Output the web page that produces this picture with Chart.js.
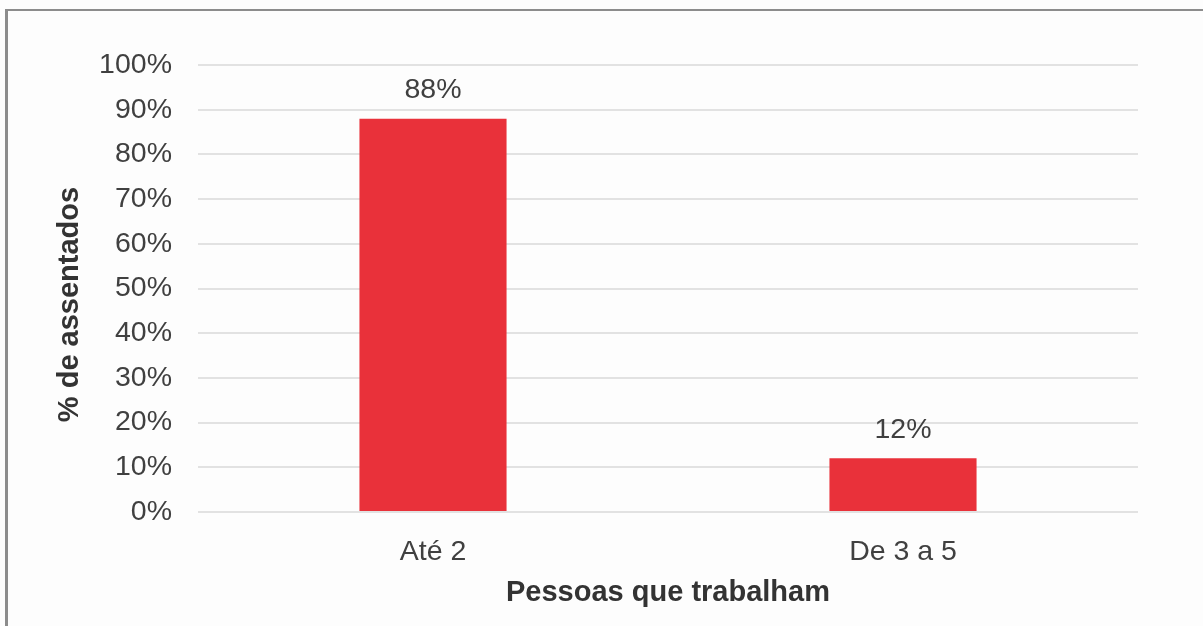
<!DOCTYPE html>
<html>
<head>
<meta charset="utf-8">
<script src="https://cdn.jsdelivr.net/npm/chart.js@4.4.1/dist/chart.umd.min.js"></script>
<style>
    html, body { margin: 0; padding: 0; background: #fdfdfd; overflow: hidden; }
    #wrap { position: relative; width: 1203px; height: 626px; }
    #frame {
        position: absolute; left: 5px; top: 9px; right: 0; bottom: 0;
        border-top: 2px solid #8c8c8c; border-left: 3px solid #8c8c8c;
        pointer-events: none;
    }
    canvas { position: absolute; left: 0; top: 0; }
</style>
</head>
<body>
<div id="wrap">
    <canvas id="workersChart" width="1203" height="626"></canvas>
    <div id="frame"></div>
</div>
<script>
const categories = ['Até 2', 'De 3 a 5'];
const percentages = [88, 12];
const yTicks = [0, 10, 20, 30, 40, 50, 60, 70, 80, 90, 100];
const yTitle = '% de assentados';
const xTitle = 'Pessoas que trabalham';

const FONT = '"Liberation Sans", Arial, sans-serif';
const TEXT = '#404040';

// writes the percentage above each bar
const barLabels = {
    id: 'barLabels',
    afterDatasetsDraw(chart) {
        const ctx = chart.ctx;
        const meta = chart.getDatasetMeta(0);
        ctx.save();
        ctx.font = '28.5px ' + FONT;
        ctx.fillStyle = TEXT;
        ctx.textAlign = 'center';
        ctx.textBaseline = 'middle';
        meta.data.forEach((bar, i) => {
            ctx.fillText(percentages[i] + '%', bar.x, bar.y - 28);
        });
        ctx.restore();
    }
};

// vertical axis title, sitting a little below the middle of the axis
const sideTitle = {
    id: 'sideTitle',
    afterDraw(chart) {
        const ctx = chart.ctx;
        const area = chart.chartArea;
        ctx.save();
        ctx.translate(70, (area.top + area.bottom) / 2 + 16);
        ctx.rotate(-Math.PI / 2);
        ctx.font = 'bold 29px ' + FONT;
        ctx.fillStyle = '#333';
        ctx.textAlign = 'center';
        ctx.textBaseline = 'middle';
        ctx.fillText(yTitle, 0, 0);
        ctx.restore();
    }
};

document.addEventListener('DOMContentLoaded', () => {
    const ctx = document.getElementById('workersChart').getContext('2d');
    new Chart(ctx, {
        type: 'bar',
        data: {
            labels: categories,
            datasets: [{
                data: percentages,
                backgroundColor: '#e9313a',
                borderWidth: 0,
                barPercentage: 0.313,
                categoryPercentage: 1
            }]
        },
        options: {
            responsive: false,
            animation: false,
            layout: { padding: { left: 0, top: 65, right: 65, bottom: 0 } },
            plugins: {
                legend: { display: false },
                tooltip: { enabled: false }
            },
            scales: {
                x: {
                    grid: { display: false, drawTicks: false },
                    border: { display: false },
                    ticks: {
                        color: TEXT,
                        padding: 23,
                        font: { family: FONT, size: 28.5 }
                    },
                    title: {
                        display: true,
                        text: xTitle,
                        color: '#333',
                        padding: { top: 0, bottom: 16 },
                        font: { family: FONT, size: 29, weight: 'bold' }
                    },
                    afterFit(scale) { scale.height = 114; }
                },
                y: {
                    min: 0,
                    max: 100,
                    afterBuildTicks(scale) {
                        scale.ticks = yTicks.map(v => ({ value: v }));
                    },
                    grid: { color: '#e2e2e2', lineWidth: 2, drawTicks: false },
                    border: { display: false },
                    ticks: {
                        color: TEXT,
                        padding: 26,
                        font: { family: FONT, size: 28.5 },
                        callback: v => v + '%'
                    },
                    afterFit(scale) { scale.width = 198; }
                }
            }
        },
        plugins: [barLabels, sideTitle]
    });
});
</script>
</body>
</html>
